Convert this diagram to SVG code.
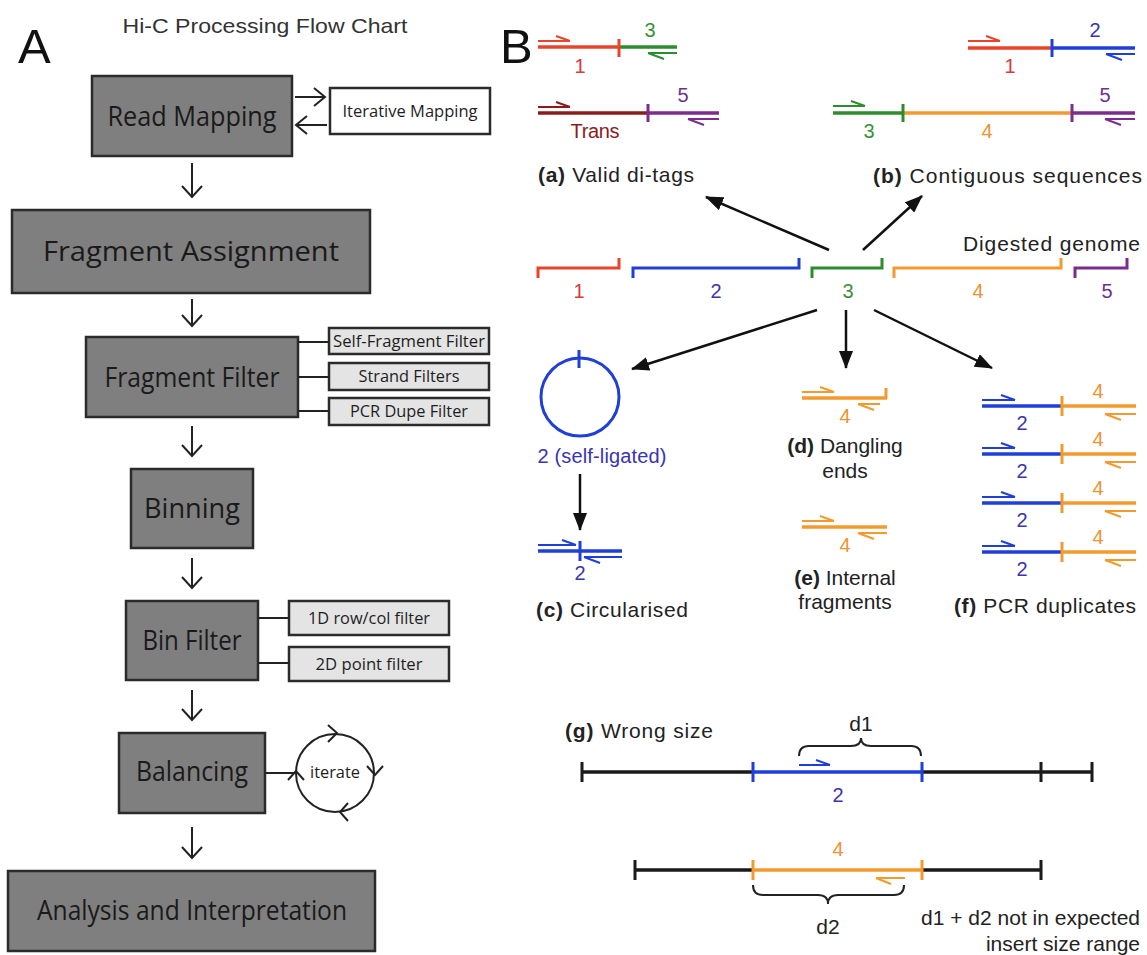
<svg xmlns="http://www.w3.org/2000/svg" width="1147" height="955" viewBox="0 0 1147 955">
<style>
.bg{fill:#ffffff}
.box{fill:#7f7f7f;stroke:#2b2b2b;stroke-width:2.5}
.sbox{fill:#e4e4e4;stroke:#2b2b2b;stroke-width:2.5}
.wbox{fill:#ffffff;stroke:#2b2b2b;stroke-width:2.5}
.bt{font-family:"Open Sans","Noto Sans",sans-serif;font-size:27px;fill:#1a1a1a;text-anchor:middle}
.st{font-family:"Open Sans","Noto Sans",sans-serif;font-size:16.5px;fill:#1e1e1e;text-anchor:middle}
.ln{stroke:#222;stroke-width:2;fill:none}
.ch{stroke:#222;stroke-width:2;fill:none;stroke-linejoin:miter}
.lb{font-family:"Liberation Sans",Arial,sans-serif;font-size:21px;fill:#222}
.num{font-family:"Liberation Sans",Arial,sans-serif;font-size:20px;text-anchor:middle}
.fr{stroke-width:3.5;fill:none}
.rd{stroke-width:2;fill:none}
.tk{stroke-width:3;fill:none}
.red{stroke:#e8442b}.green{stroke:#2e8b2e}.blue{stroke:#1f3fd6}.orange{stroke:#f39a2e}.purple{stroke:#7b2d8e}.dred{stroke:#8b1c1c}.blk{stroke:#1a1a1a}
.cred{fill:#d63a3a}.cgreen{fill:#3a8f3a}.cblue{fill:#3a34b0}.corange{fill:#f0922e}.cpurple{fill:#6e3090}.cdred{fill:#8b1c1c}
.arr{stroke:#111;stroke-width:2.5;fill:none;marker-end:url(#ah)}
</style>
<defs>
<marker id="ah" markerUnits="userSpaceOnUse" markerWidth="18" markerHeight="14" refX="17" refY="7" orient="auto">
<path d="M0,0 L18,7 L0,14 z" fill="#111"/>
</marker>
</defs>
<rect class="bg" x="0" y="0" width="1147" height="955"/>

<!-- Panel A -->
<g id="panelA-labels">
<text x="18" y="63" font-family="Liberation Sans,Arial,sans-serif" font-size="49" fill="#111">A</text>
<text x="265" y="33" font-family="Liberation Sans,Arial,sans-serif" font-size="21" fill="#333" text-anchor="middle" textLength="285" lengthAdjust="spacingAndGlyphs">Hi-C Processing Flow Chart</text>
</g>

<g id="read-mapping">
<rect class="box" x="92" y="76" width="200" height="80"/>
<text class="bt" x="192" y="126" textLength="169" lengthAdjust="spacingAndGlyphs">Read Mapping</text>
</g>
<g id="iterative-mapping">
<rect class="wbox" x="330" y="88" width="160" height="46"/>
<text class="st" x="410" y="117" textLength="135" lengthAdjust="spacingAndGlyphs">Iterative Mapping</text>
</g>
<g id="fragment-assignment">
<rect class="box" x="12" y="210" width="358" height="83"/>
<text class="bt" x="191" y="261" textLength="296" lengthAdjust="spacingAndGlyphs">Fragment Assignment</text>
</g>
<g id="fragment-filter">
<rect class="box" x="86" y="337" width="212" height="80"/>
<text class="bt" x="192" y="387" textLength="175" lengthAdjust="spacingAndGlyphs">Fragment Filter</text>
</g>
<g id="self-fragment-filter">
<rect class="sbox" x="329" y="328" width="160" height="26"/>
<text class="st" x="409" y="347" textLength="152" lengthAdjust="spacingAndGlyphs">Self-Fragment Filter</text>
</g>
<g id="strand-filters">
<rect class="sbox" x="329" y="363" width="160" height="27"/>
<text class="st" x="409" y="382" textLength="101" lengthAdjust="spacingAndGlyphs">Strand Filters</text>
</g>
<g id="pcr-dupe-filter">
<rect class="sbox" x="329" y="398" width="160" height="27"/>
<text class="st" x="409" y="417" textLength="118" lengthAdjust="spacingAndGlyphs">PCR Dupe Filter</text>
</g>
<g id="binning">
<rect class="box" x="131" y="469" width="122" height="79"/>
<text class="bt" x="192" y="518" textLength="96" lengthAdjust="spacingAndGlyphs">Binning</text>
</g>
<g id="bin-filter">
<rect class="box" x="126" y="601" width="132" height="79"/>
<text class="bt" x="192" y="650" textLength="99" lengthAdjust="spacingAndGlyphs">Bin Filter</text>
</g>
<g id="row-col-filter">
<rect class="sbox" x="289" y="601" width="160" height="34"/>
<text class="st" x="369" y="624" textLength="122" lengthAdjust="spacingAndGlyphs">1D row/col filter</text>
</g>
<g id="point-filter">
<rect class="sbox" x="289" y="647" width="160" height="34"/>
<text class="st" x="369" y="670" textLength="107" lengthAdjust="spacingAndGlyphs">2D point filter</text>
</g>
<g id="balancing">
<rect class="box" x="119" y="733" width="146" height="80"/>
<text class="bt" x="192" y="781" textLength="112" lengthAdjust="spacingAndGlyphs">Balancing</text>
</g>
<g id="iterate">
<circle cx="335" cy="773" r="39" class="ln"/>
<text class="st" x="335" y="778" textLength="50" lengthAdjust="spacingAndGlyphs">iterate</text>
<path class="ch" d="M328,725 L337,733 L328,742"/>
<path class="ch" d="M367,766 L375,775 L383,766"/>
<path class="ch" d="M348,803 L340,812 L348,821"/>
<path class="ch" d="M288,780 L296,771 L304,780"/>
</g>
<g id="analysis">
<rect class="box" x="8" y="871" width="367" height="80"/>
<text class="bt" x="192" y="920" textLength="310" lengthAdjust="spacingAndGlyphs">Analysis and Interpretation</text>
</g>

<g id="panelA-connectors">
<path class="ln" d="M295,97 H325 M314,88 L325,97 L314,106"/>
<path class="ln" d="M327,125 H296 M307,116 L296,125 L307,134"/>
<path class="ln" d="M192,163 V197 M182,186 L192,197 L202,186"/>
<path class="ln" d="M192,299 V326 M182,315 L192,326 L202,315"/>
<path class="ln" d="M192,426 V456 M182,445 L192,456 L202,445"/>
<path class="ln" d="M192,558 V588 M182,577 L192,588 L202,577"/>
<path class="ln" d="M192,690 V720 M182,709 L192,720 L202,709"/>
<path class="ln" d="M192,827 V858 M182,847 L192,858 L202,847"/>
<path class="ln" d="M298,342 H329 M298,377 H329 M298,411 H329"/>
<path class="ln" d="M258,618 H289 M258,663 H289"/>
<path class="ln" d="M265,773 H296"/>
</g>

<!-- Panel B -->
<g id="panelB-label">
<text x="500" y="63" font-family="Liberation Sans,Arial,sans-serif" font-size="49" fill="#111">B</text>
</g>

<g id="valid-ditags">
<path class="fr red" d="M538,47 H619"/>
<path class="fr green" d="M619,47 H677"/>
<path class="tk red" d="M619,39 V57"/>
<path class="rd red" d="M538,41 H570 M556,36 L570,41"/>
<path class="rd green" d="M648,53 H677 M648,53 L664,59"/>
<text class="num cgreen" x="650" y="37">3</text>
<text class="num cred" x="580" y="73">1</text>
<path class="fr dred" d="M538,113 H648"/>
<path class="fr purple" d="M648,113 H719"/>
<path class="tk purple" d="M648,104 V122"/>
<path class="rd dred" d="M538,107 H570 M556,102 L570,107"/>
<path class="rd purple" d="M688,119 H719 M688,119 L704,125"/>
<text class="num cpurple" x="683" y="102">5</text>
<text class="num cdred" x="595" y="138" textLength="49">Trans</text>
<text class="lb" x="538" y="182" textLength="156"><tspan font-weight="bold">(a)</tspan> Valid di-tags</text>
</g>

<g id="contiguous">
<path class="fr red" d="M968,48 H1052"/>
<path class="fr blue" d="M1052,48 H1135"/>
<path class="tk blue" d="M1052,39 V57"/>
<path class="rd red" d="M968,41 H1000 M986,36 L1000,41"/>
<path class="rd blue" d="M1106,54 H1135 M1106,54 L1122,60"/>
<text class="num cblue" x="1095" y="37">2</text>
<text class="num cred" x="1010" y="73">1</text>
<path class="fr green" d="M833,113 H903"/>
<path class="fr orange" d="M903,113 H1072"/>
<path class="fr purple" d="M1072,113 H1135"/>
<path class="tk green" d="M903,104 V122"/>
<path class="tk purple" d="M1072,104 V122"/>
<path class="rd green" d="M833,106 H865 M851,101 L865,106"/>
<path class="rd purple" d="M1105,119 H1135 M1105,119 L1121,125"/>
<text class="num cgreen" x="869" y="138">3</text>
<text class="num corange" x="987" y="138">4</text>
<text class="num cpurple" x="1105" y="102">5</text>
<text class="lb" x="873" y="183" textLength="269"><tspan font-weight="bold">(b)</tspan> Contiguous sequences</text>
</g>

<g id="digested-genome">
<text class="lb" x="1140" y="251" text-anchor="end" textLength="177">Digested genome</text>
<path class="tk red" d="M538,278 V268 H619 V258"/>
<path class="tk blue" d="M633,278 V268 H799 V258"/>
<path class="tk green" d="M812,278 V268 H882 V258"/>
<path class="tk orange" d="M894,278 V268 H1061 V258"/>
<path class="tk purple" d="M1075,278 V268 H1127 V258"/>
<text class="num cred" x="579" y="298">1</text>
<text class="num cblue" x="716" y="298">2</text>
<text class="num cgreen" x="848" y="298">3</text>
<text class="num corange" x="978" y="298">4</text>
<text class="num cpurple" x="1107" y="298">5</text>
</g>

<g id="circularised">
<circle cx="580" cy="397" r="39" class="tk blue"/>
<path class="tk blue" d="M579,350 V368"/>
<text class="num cblue" x="602" y="463" textLength="129">2 (self-ligated)</text>
<path class="fr blue" d="M538,551 H622"/>
<path class="tk blue" d="M580,541 V561"/>
<path class="rd blue" d="M538,545 H576 M562,540 L576,545"/>
<path class="rd blue" d="M584,557 H622 M584,557 L600,563"/>
<text class="num cblue" x="580" y="580">2</text>
<text class="lb" x="536" y="617" textLength="152"><tspan font-weight="bold">(c)</tspan> Circularised</text>
</g>

<g id="dangling-ends">
<path class="fr orange" d="M802,398 H887"/>
<path class="tk orange" d="M886,399 V388"/>
<path class="rd orange" d="M802,392 H834 M820,387 L834,392"/>
<path class="rd orange" d="M858,404 H880 M858,404 L874,410"/>
<text class="num corange" x="845" y="423">4</text>
<text class="lb" x="845" y="453" text-anchor="middle"><tspan font-weight="bold">(d)</tspan> Dangling</text>
<text class="lb" x="845" y="478" text-anchor="middle">ends</text>
</g>

<g id="internal-fragments">
<path class="fr orange" d="M802,527 H887"/>
<path class="rd orange" d="M802,521 H834 M820,516 L834,521"/>
<path class="rd orange" d="M858,533 H887 M858,533 L874,539"/>
<text class="num corange" x="845" y="552">4</text>
<text class="lb" x="845" y="585" text-anchor="middle"><tspan font-weight="bold">(e)</tspan> Internal</text>
<text class="lb" x="845" y="609" text-anchor="middle">fragments</text>
</g>

<g id="pcr-duplicates">
<g id="dup1">
<path class="fr blue" d="M982,406 H1062"/><path class="fr orange" d="M1062,406 H1136"/>
<path class="tk orange" d="M1062,396 V416"/>
<path class="rd blue" d="M982,400 H1015 M1001,395 L1015,400"/>
<path class="rd orange" d="M1105,414 H1136 M1105,414 L1121,420"/>
<text class="num cblue" x="1022" y="430">2</text><text class="num corange" x="1098" y="398">4</text>
</g>
<g id="dup2">
<path class="fr blue" d="M982,454 H1062"/><path class="fr orange" d="M1062,454 H1136"/>
<path class="tk orange" d="M1062,444 V464"/>
<path class="rd blue" d="M982,448 H1015 M1001,443 L1015,448"/>
<path class="rd orange" d="M1105,462 H1136 M1105,462 L1121,468"/>
<text class="num cblue" x="1022" y="478">2</text><text class="num corange" x="1098" y="446">4</text>
</g>
<g id="dup3">
<path class="fr blue" d="M982,503 H1062"/><path class="fr orange" d="M1062,503 H1136"/>
<path class="tk orange" d="M1062,493 V513"/>
<path class="rd blue" d="M982,497 H1015 M1001,492 L1015,497"/>
<path class="rd orange" d="M1105,511 H1136 M1105,511 L1121,517"/>
<text class="num cblue" x="1022" y="527">2</text><text class="num corange" x="1098" y="495">4</text>
</g>
<g id="dup4">
<path class="fr blue" d="M982,552 H1062"/><path class="fr orange" d="M1062,552 H1136"/>
<path class="tk orange" d="M1062,542 V562"/>
<path class="rd blue" d="M982,546 H1015 M1001,541 L1015,546"/>
<path class="rd orange" d="M1105,560 H1136 M1105,560 L1121,566"/>
<text class="num cblue" x="1022" y="576">2</text><text class="num corange" x="1098" y="544">4</text>
</g>
<text class="lb" x="954" y="613" textLength="182"><tspan font-weight="bold">(f)</tspan> PCR duplicates</text>
</g>

<g id="wrong-size">
<text class="lb" x="565" y="738" textLength="148"><tspan font-weight="bold">(g)</tspan> Wrong size</text>
<path class="fr blk" d="M582,772 H753 M922,772 H1092"/>
<path class="fr blue" d="M753,772 H922"/>
<path class="tk blk" d="M582,762 V782 M1041,762 V782 M1092,762 V782"/>
<path class="tk blue" d="M753,762 V782 M922,762 V782"/>
<path class="rd blue" d="M799,765 H830 M816,760 L830,765"/>
<path class="ln" d="M799,756 Q799,746 809,746 H851 Q861,746 861,738 Q861,746 871,746 H911 Q921,746 921,756"/>
<text class="lb" x="861" y="731" text-anchor="middle">d1</text>
<text class="num cblue" x="838" y="802">2</text>
<path class="fr blk" d="M635,870 H753 M922,870 H1041"/>
<path class="fr orange" d="M753,870 H922"/>
<path class="tk blk" d="M635,860 V880 M1041,860 V880"/>
<path class="tk orange" d="M753,860 V880 M922,860 V880"/>
<path class="rd orange" d="M876,878 H905 M876,878 L891,884"/>
<text class="num corange" x="838" y="856">4</text>
<path class="ln" d="M753,885 Q753,895 763,895 H818 Q828,895 828,904 Q828,895 838,895 H894 Q904,895 904,885"/>
<text class="lb" x="828" y="934" text-anchor="middle">d2</text>
<text class="lb" x="1140" y="925" text-anchor="end">d1 + d2 not in expected</text>
<text class="lb" x="1140" y="951" text-anchor="end">insert size range</text>
</g>

<g id="connectors">
<path class="arr" d="M829,250 L706,197"/>
<path class="arr" d="M863,250 L922,196"/>
<path class="arr" d="M817,310 L632,369"/>
<path class="arr" d="M846,310 V368"/>
<path class="arr" d="M874,310 L992,368"/>
<path class="arr" d="M580,474 V530"/>
</g>
</svg>
